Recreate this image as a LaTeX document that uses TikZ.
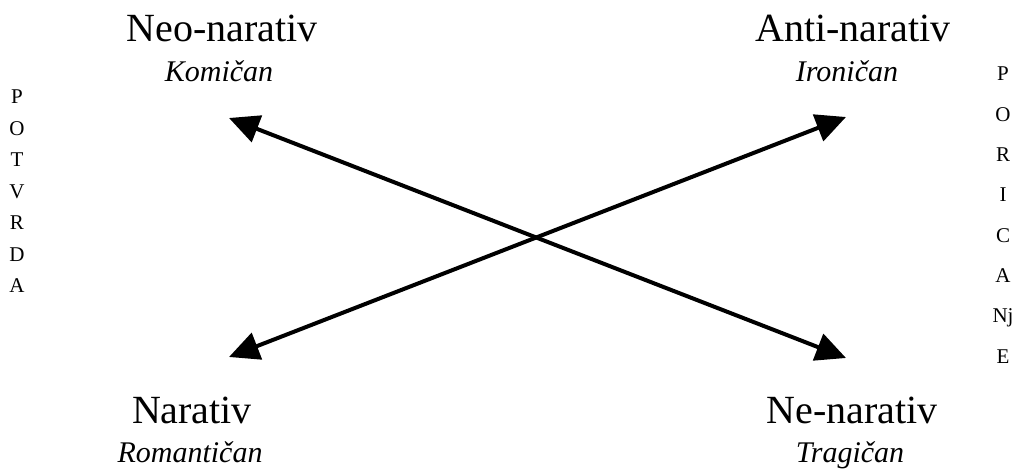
\documentclass[tikz,border=0pt]{standalone}
\usepackage{fontspec}
\setmainfont{Liberation Serif}
\usetikzlibrary{arrows.meta}
\tikzset{
  title/.style={anchor=base, inner sep=0pt, font=\fontsize{40}{48}\selectfont},
  sub/.style={anchor=base, inner sep=0pt, font=\fontsize{30}{36}\selectfont\itshape},
  side/.style={anchor=base, inner sep=0pt, font=\fontsize{21}{25}\selectfont},
  conn/.style={line width=4pt, {Triangle[length=30pt,width=28pt]}-{Triangle[length=30pt,width=28pt]}}
}
\begin{document}
\begin{tikzpicture}[x=1pt,y=-1pt]
\useasboundingbox (0,0) rectangle (1023,470);
\node[title] (neo) at (222,42) {Neo-narativ};
\node[sub] (kom) at (219,82) {Komičan};
\node[title] (anti) at (853,42) {Anti-narativ};
\node[sub] (iro) at (847,82) {Ironičan};
\node[title] (nar) at (192,423) {Narativ};
\node[sub] (rom) at (190,462) {Romantičan};
\node[title] (ne) at (852,423) {Ne-narativ};
\node[sub] (tra) at (850,462) {Tragičan};
\foreach \l [count=\i from 0] in {P,O,T,V,R,D,A}
  \node[side] (L\i) at (17,{104+31.5*\i}) {\l};
\foreach \l [count=\i from 0] in {P,O,R,I,C,A,Nj,E}
  \node[side] (R\i) at (1003,{81+40.3*\i}) {\l};
\coordinate (tl) at (229,118);
\coordinate (br) at (846,358);
\coordinate (bl) at (229,357);
\coordinate (tr) at (846,117);
\draw[conn] (tl) -- (br);
\draw[conn] (bl) -- (tr);
\end{tikzpicture}
\end{document}
